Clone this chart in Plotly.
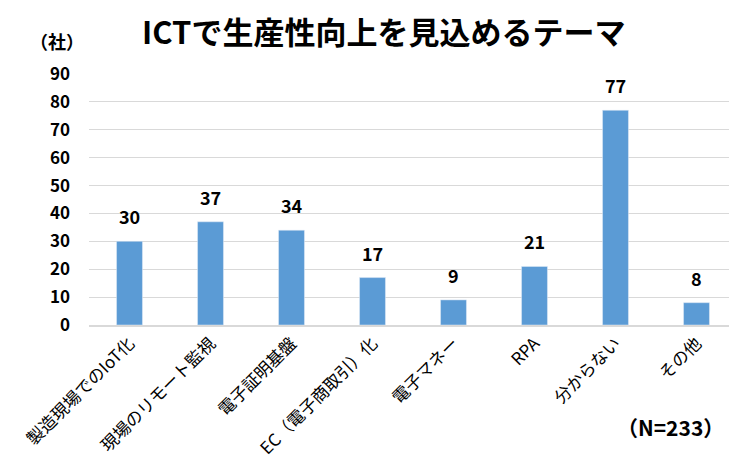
import plotly.graph_objects as go

categories = ["製造現場でのIoT化", "現場のリモート監視", "電子証明基盤", "EC（電子商取引）化",
              "電子マネー", "RPA", "分からない", "その他"]
values = [30, 37, 34, 17, 9, 21, 77, 8]
y_ticks = [0, 10, 20, 30, 40, 50, 60, 70, 80, 90]

FONT = "Noto Sans CJK JP"
OFF = 8  # page body margin
W, H = 737 - OFF, 459 - OFF
L, R, T, B = 89 - OFF, 0, 74 - OFF, H - (325 - OFF)
pw, ph = W - L - R, H - T - B

def scr2paper(sx, sy):
    fx, fy = sx - OFF, sy - OFF
    return (fx - L) / pw, 1 - (fy - T) / ph

fig = go.Figure(go.Bar(
    x=categories, y=values, marker_color="#5B9BD5", width=0.32,
))

anns = []
for c, v in zip(categories, values):
    anns.append(dict(x=c, y=v, text=str(v), showarrow=False, yanchor="bottom", yshift=10,
                     font=dict(family=FONT, size=18, color="black", weight="bold")))

sx, sy = scr2paper(28, 41)
anns.append(dict(text="（社）", x=sx, y=sy, xref="paper", yref="paper", showarrow=False,
                 font=dict(family=FONT, size=18, weight="bold", color="black"),
                 xanchor="left", yanchor="middle"))
nx, ny = scr2paper(670, 427)
anns.append(dict(text="（N=233）", x=nx, y=ny, xref="paper", yref="paper", showarrow=False,
                 font=dict(family=FONT, size=21, weight="bold", color="black"),
                 xanchor="center", yanchor="middle"))
tx, ty = scr2paper(383, 31)
anns.append(dict(text="ICTで生産性向上を見込めるテーマ", x=tx, y=ty, xref="paper", yref="paper",
                 showarrow=False, xanchor="center", yanchor="middle",
                 font=dict(family=FONT, size=31, color="black", weight="bold")))

fig.update_layout(
    width=W, height=H, margin=dict(l=L, r=R, t=T, b=B),
    paper_bgcolor="white", plot_bgcolor="white", showlegend=False,
    font=dict(family=FONT, color="black"),
    xaxis=dict(tickangle=-45, tickfont=dict(family=FONT, size=17, color="black"),
               showline=True, linecolor="#D9D9D9", linewidth=1.5, ticks="", automargin=False),
    yaxis=dict(range=[0, 90], tickvals=y_ticks, showgrid=True, gridcolor="#D9D9D9", gridwidth=1.2,
               tickfont=dict(family=FONT, size=17, color="black", weight="bold"),
               zeroline=False, ticklabelstandoff=18, automargin=False),
    annotations=anns,
)
fig.write_html("out.html")
